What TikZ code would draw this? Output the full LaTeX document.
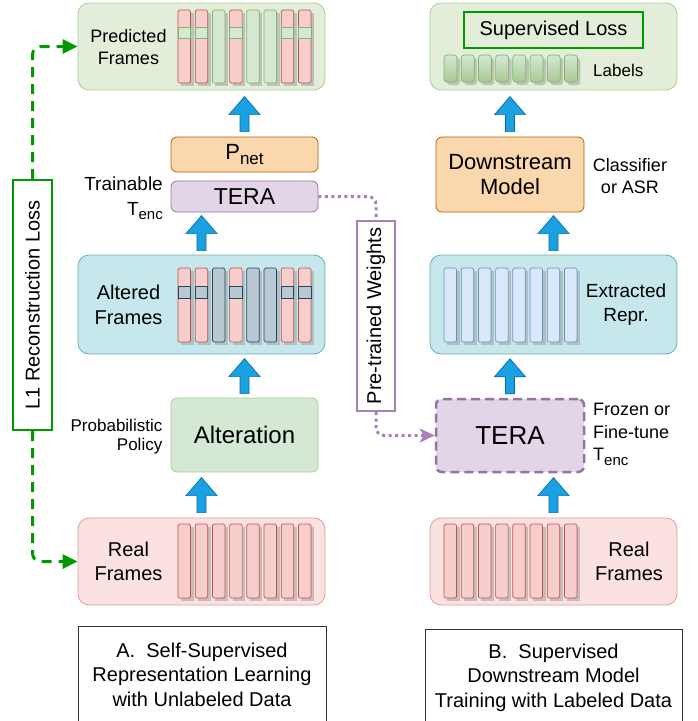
\documentclass[tikz,border=0pt]{standalone}
\usepackage{fontspec}
\setmainfont{Liberation Sans}
\usetikzlibrary{arrows.meta}

\definecolor{gpfill}{HTML}{E2EEDA}
\definecolor{gpline}{HTML}{A6CE92}
\definecolor{cpfill}{HTML}{C6E8EC}
\definecolor{cpline}{HTML}{6AAFB6}
\definecolor{rpfill}{HTML}{FBE2E1}
\definecolor{rpline}{HTML}{DE9F9C}
\definecolor{redfill}{HTML}{F8CECC}
\definecolor{redline}{HTML}{B85450}
\definecolor{grnfill}{HTML}{D5E8D4}
\definecolor{grnline}{HTML}{82B366}
\definecolor{gryfill}{HTML}{BAC8D3}
\definecolor{gryline}{HTML}{23445D}
\definecolor{blufill}{HTML}{DAE8FC}
\definecolor{bluline}{HTML}{6C8EBF}
\definecolor{orgfill}{HTML}{FAD7AC}
\definecolor{orgline}{HTML}{B46504}
\definecolor{purfill}{HTML}{E1D5E7}
\definecolor{purline}{HTML}{9673A6}
\definecolor{ptwline}{HTML}{A680B8}
\definecolor{arrfill}{HTML}{1BA1E2}
\definecolor{arrline}{HTML}{006EAF}
\definecolor{lossgreen}{HTML}{009900}

\tikzset{
  panel/.style={draw, rounded corners=11pt, line width=0.8pt, inner sep=0pt},
  gpanel/.style={panel, fill=gpfill, draw=gpline},
  cpanel/.style={panel, fill=cpfill, draw=cpline},
  rpanel/.style={panel, fill=rpfill, draw=rpline},
  block/.style={draw, rounded corners=6pt, line width=0.8pt, inner sep=0pt},
  orgblock/.style={block, fill=orgfill, draw=orgline},
  purblock/.style={block, fill=purfill, draw=purline},
  grnblock/.style={block, fill=grnfill, draw=gpline},
  rbar/.style={fill=redfill, draw=redline, line width=0.7pt, rounded corners=1.5pt},
  gbar/.style={fill=grnfill, draw=grnline, line width=0.7pt, rounded corners=1.5pt},
  kbar/.style={fill=gryfill, draw=gryline, line width=0.7pt, rounded corners=1.5pt},
  bbar/.style={fill=blufill, draw=bluline, line width=0.7pt, rounded corners=1.5pt},
  gband/.style={fill=grnfill, draw=grnline, line width=0.7pt},
  kband/.style={fill=gryfill, draw=gryline, line width=0.7pt},
  barshadow/.style={fill=black!40, opacity=0.5},
  blockarr/.style={fill=arrfill, draw=arrline, line width=0.7pt},
  txt/.style={inner sep=0pt, align=center, font=\fontsize{18}{22}\selectfont},
  caption/.style={draw=black!80, line width=0.8pt, inner sep=0pt, align=center,
    font=\fontsize{20}{24.5}\selectfont},
  lossline/.style={draw=lossgreen, line width=3pt, dash pattern=on 10pt off 7pt,
    rounded corners=8pt, -{Triangle[length=15pt,width=14pt]}},
  ptline/.style={draw=ptwline, line width=3pt, dash pattern=on 3pt off 3.5pt,
    rounded corners=8pt},
  uparr/.pic={\draw[blockarr] (-4.5,0) -- (-4.5,-17) -- (-15.5,-17) -- (0,-35)
    -- (15.5,-17) -- (4.5,-17) -- (4.5,0) -- cycle;}
}

\newcommand{\tenc}{T\raisebox{-0.45ex}{\fontsize{15}{15}\selectfont enc}}

% bars: x0, ytop, ybottom, styles
\newcommand{\framebars}[4]{%
  \foreach \s [count=\i from 0] in {#4}{%
    \fill[barshadow] ({#1+17.2*\i+3},{#2+3}) rectangle ({#1+17.2*\i+15.5},{#3+3});
    \draw[style=\s] ({#1+17.2*\i},#2) rectangle ({#1+17.2*\i+12.5},#3);
  }}
% bands: x0, ytop, ybottom, style, indices
\newcommand{\framebands}[5]{%
  \foreach \i in {#5}{%
    \draw[#4] ({#1+17.2*\i},#2) rectangle ({#1+17.2*\i+12.5},#3);
  }}

\begin{document}
\begin{tikzpicture}[x=1pt, y=-1pt]
\useasboundingbox (0,0) rectangle (697,721);

% A. self-supervised side
\node[gpanel, minimum width=247, minimum height=87] (pred) at (201.5,46.5) {};
\node[txt] (predtxt) at (128.5,47) {Predicted\\Frames};
\framebars{178}{10}{83}{rbar,rbar,gbar,rbar,gbar,gbar,rbar,rbar}
\framebands{178}{27}{38}{gband}{0,1,3,6,7}

\node[orgblock, minimum width=147, minimum height=35, font=\fontsize{22}{22}\selectfont]
  (pnet) at (244.5,154.5) {P\raisebox{-0.4ex}{\fontsize{17}{17}\selectfont net}};
\node[purblock, minimum width=147, minimum height=31, font=\fontsize{23}{23}\selectfont]
  (teraA) at (244.5,196.5) {TERA};
\node[txt, anchor=east, align=right, font=\fontsize{19}{25}\selectfont]
  (trainable) at (163,198) {Trainable\\\tenc};

\node[cpanel, minimum width=247, minimum height=99] (altered) at (201.5,304.5) {};
\node[txt, font=\fontsize{20}{25}\selectfont] (alteredtxt) at (128.5,304.5) {Altered\\Frames};
\framebars{178}{268}{342}{rbar,rbar,kbar,rbar,kbar,kbar,rbar,rbar}
\framebands{178}{286}{298}{kband}{0,1,3,6,7}

\node[grnblock, minimum width=147, minimum height=74, font=\fontsize{24}{24}\selectfont]
  (alter) at (244.5,435) {Alteration};
\node[txt, anchor=east, align=right, font=\fontsize{17}{19.5}\selectfont]
  (policy) at (162.5,436.5) {Probabilistic\\Policy};

\node[rpanel, minimum width=247, minimum height=87] (realA) at (201.5,561.5) {};
\node[txt, font=\fontsize{20}{24}\selectfont] (realAtxt) at (128.5,561.5) {Real\\Frames};
\framebars{178}{524}{598}{rbar,rbar,rbar,rbar,rbar,rbar,rbar,rbar}

\node[caption, minimum width=248, minimum height=97] (capA) at (202,674.5)
  {A.\ \ Self-Supervised\\Representation Learning\\with Unlabeled Data};

\pic at ([yshift=5pt]pnet.north) {uparr};
\pic at ([yshift=4pt]altered.north) {uparr};
\pic at ([yshift=4pt]alter.north) {uparr};
\pic at ([yshift=5pt]realA.north) {uparr};

% loss and weights
\node[draw=lossgreen, fill=white, line width=2pt, rotate=90, minimum width=250,
  minimum height=39, inner sep=0pt, font=\fontsize{20}{20}\selectfont]
  (lossL) at (32.5,305) {L1 Reconstruction Loss};
\draw[lossline] (lossL.east) |- (pred.west);
\draw[lossline] (lossL.west) |- (realA.west);

\node[draw=ptwline, fill=white, line width=2pt, rotate=90, minimum width=190,
  minimum height=38, inner sep=0pt, font=\fontsize{20}{20}\selectfont]
  (ptw) at (376,316) {Pre-trained Weights};

% B. supervised side
\node[gpanel, minimum width=247, minimum height=87] (predB) at (553.5,46.5) {};
\node[draw=lossgreen, fill=gpfill, line width=2pt, minimum width=179, minimum height=36,
  inner sep=0pt, font=\fontsize{20}{20}\selectfont] (suploss) at (553.5,30) {Supervised Loss};
\foreach \i in {0,...,7}{
  \fill[barshadow, rounded corners=3pt] ({444+17.2*\i+3},58) rectangle ({444+17.2*\i+16},85);
  \draw[top color=grnfill, bottom color=grnline!70, draw=grnline, line width=0.7pt,
    rounded corners=3pt] ({444+17.2*\i},55) rectangle ({444+17.2*\i+13},82);
}
\node[txt, anchor=west, font=\fontsize{17}{17}\selectfont] (labels) at (593,70) {Labels};

\node[orgblock, minimum width=148, minimum height=75, align=center,
  font=\fontsize{22}{25}\selectfont] (down) at (510,174.5) {Downstream\\Model};
\node[txt] (clf) at (630,176) {Classifier\\or ASR};

\node[cpanel, minimum width=247, minimum height=99] (extr) at (553.5,304.5) {};
\framebars{444}{268}{342}{bbar,bbar,bbar,bbar,bbar,bbar,bbar,bbar}
\node[txt, font=\fontsize{19}{24}\selectfont] (extrtxt) at (626,305) {Extracted\\Repr.};

\node[purblock, line width=2.5pt, dash pattern=on 9pt off 5pt,
  minimum width=148, minimum height=73, font=\fontsize{26}{26}\selectfont]
  (teraB) at (510,435.5) {TERA};
\node[txt, anchor=west, align=left, font=\fontsize{18}{22.5}\selectfont]
  (frozen) at (593,434.5) {Frozen or\\Fine-tune\\\tenc};

\node[rpanel, minimum width=247, minimum height=87] (realB) at (553.5,561.5) {};
\framebars{444}{524}{598}{rbar,rbar,rbar,rbar,rbar,rbar,rbar,rbar}
\node[txt, font=\fontsize{20}{24}\selectfont] (realBtxt) at (629,561.5) {Real\\Frames};

\node[caption, minimum width=257, minimum height=97] (capB) at (553.5,677.5)
  {B.\ \ Supervised\\Downstream Model\\Training with Labeled Data};

\pic at ([yshift=5pt]down.north) {uparr};
\pic at ([yshift=4pt]extr.north) {uparr};
\pic at ([yshift=4pt]teraB.north) {uparr};
\pic at ([yshift=5pt]realB.north) {uparr};

\draw[ptline] (teraA.east) -| (ptw.east);
\draw[ptline, -{Stealth[length=15pt,width=14pt,inset=4pt]}] (ptw.west) |- (teraB.west);
\end{tikzpicture}
\end{document}
